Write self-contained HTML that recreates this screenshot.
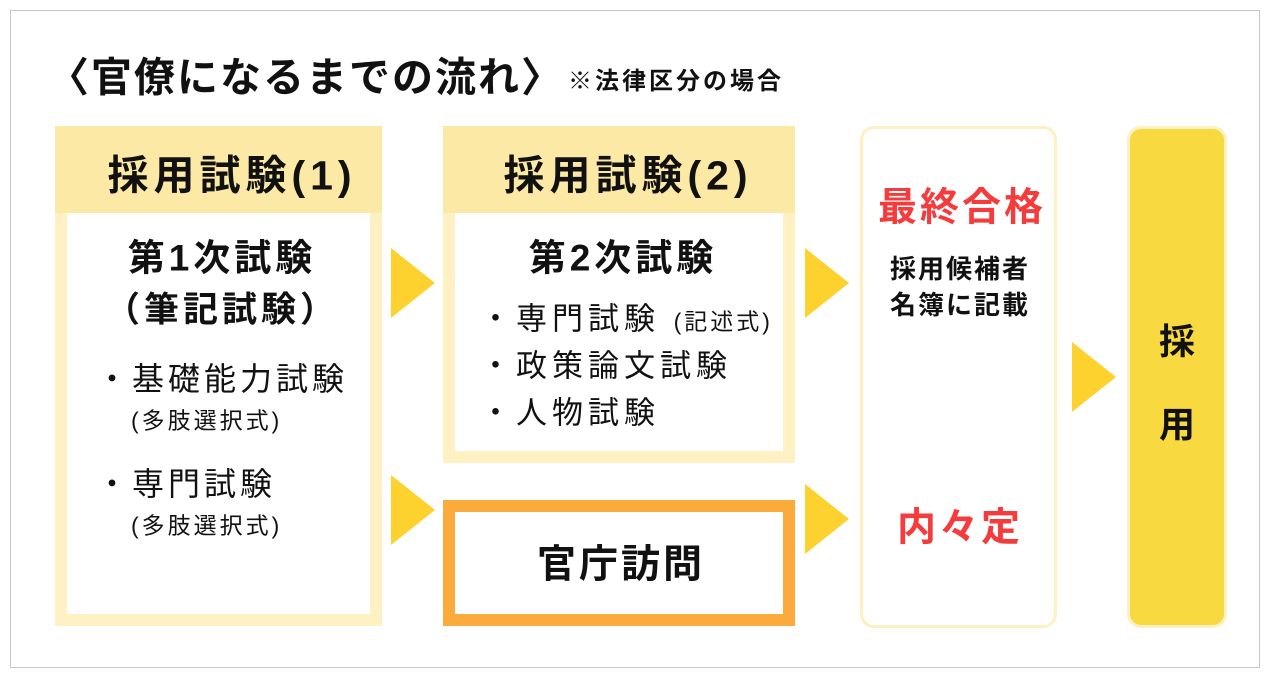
<!DOCTYPE html>
<html><head><meta charset="utf-8"><style>
body{margin:0;width:1272px;height:682px;background:#fff;position:relative;overflow:hidden;font-family:"Liberation Sans","Noto Sans CJK JP",sans-serif;color:#111}
.a{position:absolute}
.t{position:absolute;white-space:nowrap;line-height:1}
.c{transform:translate(-50%,-50%)}
.l{transform:translateY(-50%)}
.tri{position:absolute;width:0;height:0;border-top:35px solid transparent;border-bottom:35px solid transparent;border-left:44px solid #fdd22e}
</style></head><body>
<div class="a" style="left:10px;top:10px;width:1248px;height:656px;border:1px solid #c8c8c8"></div>
<div class="t l" style="left:48px;top:78px;font-size:41px;font-weight:700;letter-spacing:2px">〈官僚になるまでの流れ〉</div>
<div class="t l" style="left:568px;top:82px;font-size:24px;font-weight:700;letter-spacing:3px">※法律区分の場合</div>

<div class="a" style="left:55px;top:126px;width:327px;height:500px;background:#fff1c4"></div>
<div class="a" style="left:55px;top:126px;width:327px;height:87px;background:#fde9a6"></div>
<div class="a" style="left:67px;top:213px;width:303px;height:401px;background:#fff"></div>
<div class="t c" style="left:232px;top:176px;font-size:41px;font-weight:700;letter-spacing:5px">採用試験(1)</div>
<div class="t c" style="left:222px;top:258px;font-size:37px;font-weight:700;letter-spacing:4px">第1次試験</div>
<div class="t c" style="left:222px;top:310px;font-size:35px;font-weight:700;letter-spacing:4px">（筆記試験）</div>
<div class="t l" style="left:96px;top:379px;font-size:32px;letter-spacing:4px">・基礎能力試験</div>
<div class="t l" style="left:131px;top:421px;font-size:23px;letter-spacing:3px">(多肢選択式)</div>
<div class="t l" style="left:96px;top:484px;font-size:32px;letter-spacing:4px">・専門試験</div>
<div class="t l" style="left:131px;top:526px;font-size:23px;letter-spacing:3px">(多肢選択式)</div>

<div class="a" style="left:443px;top:126px;width:352px;height:337px;background:#fff1c4"></div>
<div class="a" style="left:443px;top:126px;width:352px;height:87px;background:#fde9a6"></div>
<div class="a" style="left:455px;top:213px;width:328px;height:238px;background:#fff"></div>
<div class="t c" style="left:628px;top:176px;font-size:41px;font-weight:700;letter-spacing:5px">採用試験(2)</div>
<div class="t c" style="left:623px;top:258px;font-size:37px;font-weight:700;letter-spacing:4px">第2次試験</div>
<div class="t l" style="left:480px;top:319px;font-size:31px;letter-spacing:5px">・専門試験 <span style="font-size:23px;letter-spacing:3px">(記述式)</span></div>
<div class="t l" style="left:480px;top:366px;font-size:31px;letter-spacing:5px">・政策論文試験</div>
<div class="t l" style="left:480px;top:413px;font-size:31px;letter-spacing:5px">・人物試験</div>

<div class="a" style="left:443px;top:500px;width:328px;height:102px;border:12px solid #fbab3c"></div>
<div class="t c" style="left:621px;top:565px;font-size:39px;font-weight:700;letter-spacing:3px">官庁訪問</div>

<div class="a" style="left:860px;top:126px;width:191px;height:496px;border:3px solid #fdf0c2;border-radius:14px"></div>
<div class="t c" style="left:962px;top:208px;font-size:39px;font-weight:700;letter-spacing:3px;color:#f53b3b">最終合格</div>
<div class="t c" style="left:960px;top:269px;font-size:26px;font-weight:700;letter-spacing:2px">採用候補者</div>
<div class="t c" style="left:960px;top:305px;font-size:26px;font-weight:700;letter-spacing:2px">名簿に記載</div>
<div class="t c" style="left:960px;top:528px;font-size:39px;font-weight:700;letter-spacing:3px;color:#f53b3b">内々定</div>

<div class="a" style="left:1127px;top:126px;width:94px;height:496px;background:#f8d93f;border:3px solid #fdf0c2;border-radius:14px"></div>
<div class="t c" style="left:1177px;top:342px;font-size:36px;font-weight:700">採</div>
<div class="t c" style="left:1177px;top:425px;font-size:36px;font-weight:700">用</div>

<div class="tri" style="left:391px;top:248px"></div>
<div class="tri" style="left:391px;top:475px"></div>
<div class="tri" style="left:805px;top:248px"></div>
<div class="tri" style="left:805px;top:484px"></div>
<div class="tri" style="left:1072px;top:342px"></div>
</body></html>
